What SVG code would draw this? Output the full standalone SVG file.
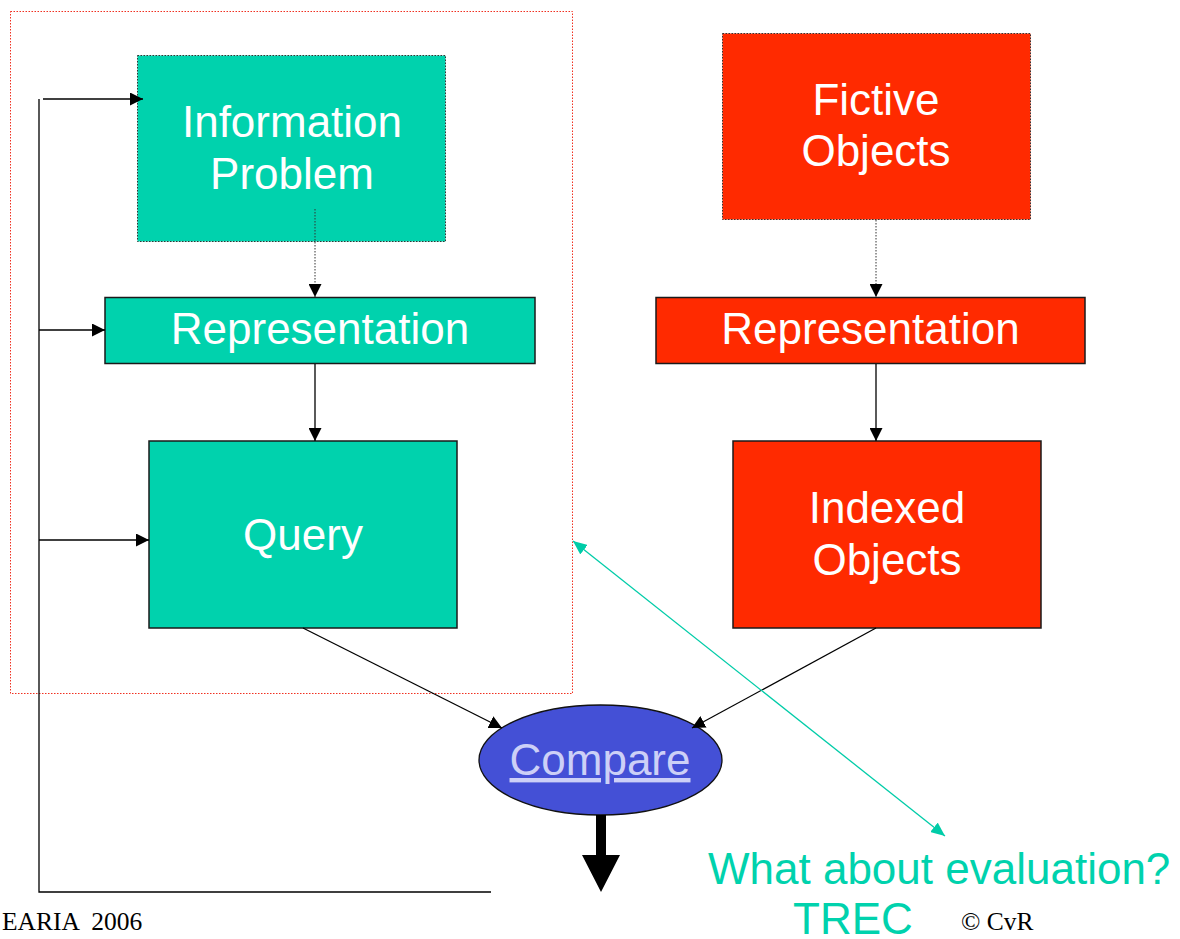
<svg xmlns="http://www.w3.org/2000/svg" width="1180" height="939" viewBox="0 0 1180 939">
  <defs>
    <marker id="arrow" markerUnits="userSpaceOnUse" markerWidth="13" markerHeight="13" refX="13" refY="6.5" orient="auto">
      <path d="M0,0 L13,6.5 L0,13 z" fill="#000"/>
    </marker>
    <marker id="arrow-teal" markerUnits="userSpaceOnUse" markerWidth="14" markerHeight="12" refX="14" refY="6" orient="auto-start-reverse">
      <path d="M0,0 L14,6 L0,12 z" fill="#00CCA8"/>
    </marker>
    <style>
      .teal { fill: #00D2AD; }
      .red { fill: #FF2A00; }
      .solid { stroke: #1a1a1a; stroke-width: 1.5; }
      .dotted { stroke: #333; stroke-width: 1; stroke-dasharray: 1.5 1.5; }
      .label { font-family: "Liberation Sans", Arial, sans-serif; font-size: 44px; fill: #fff; text-anchor: middle; }
      .link { stroke: #000; stroke-width: 1.3; fill: none; }
      .link-dotted { stroke: #333; stroke-width: 1; stroke-dasharray: 1.5 1.5; fill: none; }
      .footer { font-family: "Liberation Serif", "Times New Roman", serif; font-size: 25.5px; fill: #000; white-space: pre; }
      .note { font-family: "Liberation Sans", Arial, sans-serif; font-size: 44px; fill: #00D2AD; }
    </style>
  </defs>

  <!-- dotted frame around the query side -->
  <rect x="10.5" y="11.5" width="562" height="682" fill="none" stroke="#F03020" stroke-width="1" stroke-dasharray="1.5 1.5"/>

  <!-- nodes -->
  <g id="information-problem">
    <rect x="137.5" y="55.5" width="308" height="186" class="teal dotted"/>
    <text class="label" x="292" y="137">Information</text>
    <text class="label" x="292" y="189">Problem</text>
  </g>
  <g id="representation-query">
    <rect x="105" y="297.5" width="430" height="66" class="teal solid"/>
    <text class="label" x="320" y="344">Representation</text>
  </g>
  <g id="query">
    <rect x="149" y="441" width="308" height="187" class="teal solid"/>
    <text class="label" x="303" y="550">Query</text>
  </g>
  <g id="fictive-objects">
    <rect x="722.5" y="33.5" width="308" height="186" class="red dotted"/>
    <text class="label" x="876" y="115">Fictive</text>
    <text class="label" x="876" y="166">Objects</text>
  </g>
  <g id="representation-objects">
    <rect x="656" y="297.5" width="429" height="66" class="red solid"/>
    <text class="label" x="870.5" y="344">Representation</text>
  </g>
  <g id="indexed-objects">
    <rect x="733" y="441" width="308" height="187" class="red solid"/>
    <text class="label" x="887" y="523">Indexed</text>
    <text class="label" x="887" y="575">Objects</text>
  </g>
  <g id="compare">
    <ellipse cx="600.5" cy="760" rx="121.5" ry="55" fill="#4450D6" stroke="#111" stroke-width="1.3"/>
    <text class="label" x="600" y="775" style="fill:#CDD0F7" text-decoration="underline">Compare</text>
  </g>
  <g id="output">
    <path d="M596,815 H606 V855 H620 L601,892 L582,855 H596 Z" fill="#000"/>
  </g>

  <!-- connectors -->
  <g id="connectors">
    <line x1="315" y1="209" x2="315" y2="297" class="link-dotted" marker-end="url(#arrow)"/>
    <line x1="315" y1="364" x2="315" y2="441" class="link" marker-end="url(#arrow)"/>
    <line x1="876" y1="220" x2="876" y2="297" class="link-dotted" marker-end="url(#arrow)"/>
    <line x1="876" y1="364" x2="876" y2="441" class="link" marker-end="url(#arrow)"/>
    <line x1="303" y1="628" x2="502" y2="728" class="link" marker-end="url(#arrow)"/>
    <line x1="876" y1="628" x2="692" y2="728" class="link" marker-end="url(#arrow)"/>
    <!-- feedback loop -->
    <polyline points="491,892 39,892 39,99" class="link" stroke="#333"/>
    <line x1="43" y1="99" x2="143" y2="99" class="link" marker-end="url(#arrow)"/>
    <line x1="39" y1="330" x2="105" y2="330" class="link" marker-end="url(#arrow)"/>
    <line x1="39" y1="540" x2="149" y2="540" class="link" marker-end="url(#arrow)"/>
    <!-- evaluation link -->
    <line x1="573" y1="541" x2="945" y2="836" stroke="#00CCA8" stroke-width="1.3" marker-start="url(#arrow-teal)" marker-end="url(#arrow-teal)"/>
  </g>

  <!-- annotations -->
  <text class="note" x="793" y="934">TREC</text>
  <text class="note" x="708" y="884">What about evaluation?</text>
  <text class="footer" x="961" y="930">© CvR</text>
  <text class="footer" x="2" y="930">EARIA  2006</text>
</svg>
